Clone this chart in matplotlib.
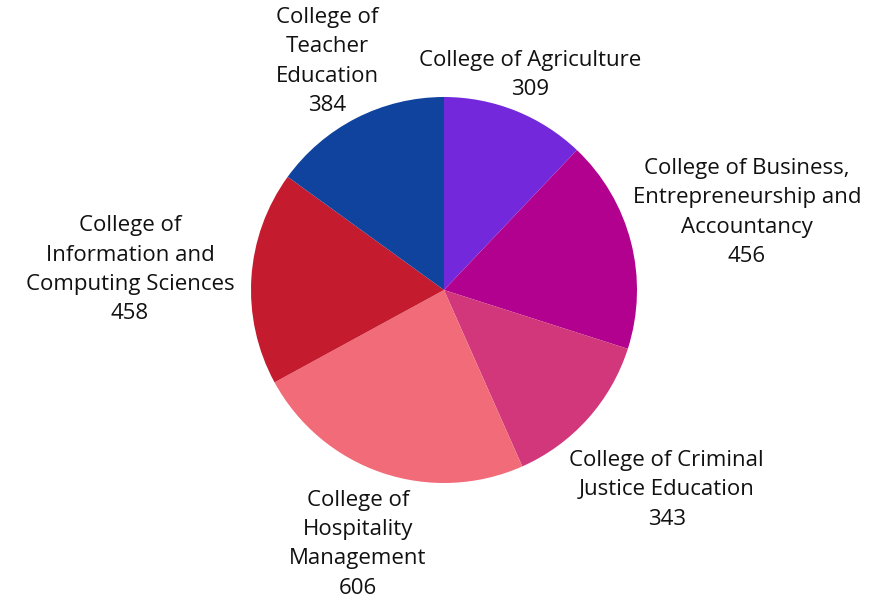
import numpy as np
import matplotlib
matplotlib.use("Agg")
import matplotlib.pyplot as plt

plt.rcParams["font.family"] = ["Open Sans", "DejaVu Sans"]

colleges = [
    "College of Agriculture",
    "College of Business,\nEntrepreneurship and\nAccountancy",
    "College of Criminal\nJustice Education",
    "College of\nHospitality\nManagement",
    "College of\nInformation and\nComputing Sciences",
    "College of\nTeacher\nEducation",
]
students = [309, 456, 343, 606, 458, 384]
colors = ["#7329DB", "#B3018F", "#D1377A", "#F26B79", "#C41B2E", "#10439E"]
# how far out each label sits (in pie radii)
label_radius = [1.20, 1.62, 1.55, 1.39, 1.63, 1.33]

W, H = 877, 602
fig = plt.figure(figsize=(W / 100, H / 100), dpi=100)
cx, cy, r = 444, 290, 193
ax = fig.add_axes([(cx - r) / W, (H - cy - r) / H, 2 * r / W, 2 * r / H])

wedges, _ = ax.pie(students, colors=colors, startangle=90, counterclock=False,
                   radius=1, wedgeprops=dict(linewidth=0))
ax.set_xlim(-1, 1)
ax.set_ylim(-1, 1)
ax.set_aspect("equal")

for w, name, n, lr in zip(wedges, colleges, students, label_radius):
    ang = np.deg2rad((w.theta1 + w.theta2) / 2)
    ax.text(lr * np.cos(ang), lr * np.sin(ang), f"{name}\n{n}",
            ha="center", va="center", fontsize=16, linespacing=1.52,
            color="#111111", clip_on=False)

fig.savefig("out.png", dpi=100)
